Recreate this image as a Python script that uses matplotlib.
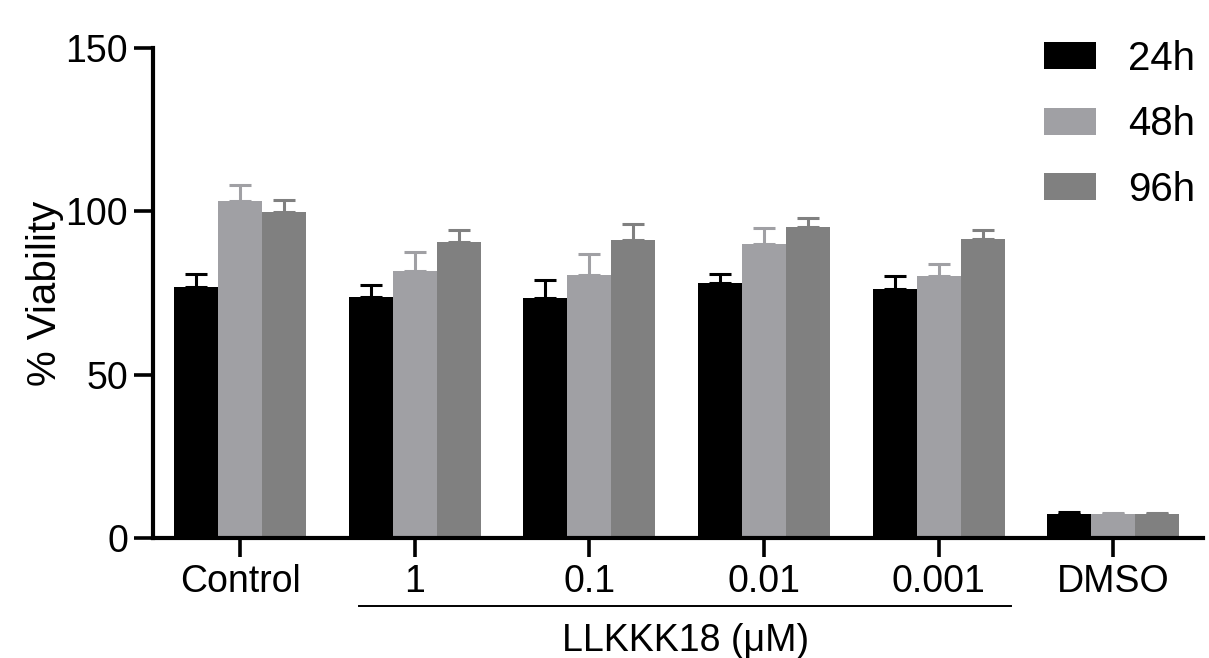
from matplotlib import pyplot as plt
import numpy as np

# data
groups = ["Control", "1", "0.1", "0.01", "0.001", "DMSO"]
series = ["24h", "48h", "96h"]
v24 = [76.8, 73.8, 73.5, 78.1, 76.1, 7.4]
v48 = [103.2, 81.7, 80.4, 90.1, 80.2, 7.2]
v96 = [99.7, 90.5, 91.1, 95.2, 91.4, 7.3]
e24 = [4.0, 3.5, 5.6, 2.7, 4.1, 0.6]
e48 = [4.8, 5.7, 6.5, 4.8, 3.7, 0.4]
e96 = [3.8, 3.7, 5.0, 2.7, 2.8, 0.5]
colors = ["#000000", "#a0a0a4", "#808080"]

plt.rcParams['font.family'] = ['Liberation Sans', 'DejaVu Sans']

fig = plt.figure(figsize=(12.09, 6.58), dpi=100)
ax = fig.add_axes([153/1209, 120/658, 1050/1209, 490/658])

x = np.arange(len(groups))
w = 0.252
vals = [v24, v48, v96]
errs = [e24, e48, e96]
for i in range(3):
    pos = x + (i - 1) * w
    ax.bar(pos, vals[i], width=w, color=colors[i], label=series[i], zorder=2)
    ax.errorbar(pos, vals[i], yerr=[np.zeros(len(groups)), errs[i]], fmt='none',
                ecolor=colors[i], elinewidth=2.2, capsize=8, capthick=2.2, zorder=1)

ax.set_xlim(-0.5, 5.515)
ax.set_ylim(0, 150)
ax.set_yticks([0, 50, 100, 150])
ax.set_xticks(x)
ax.set_xticklabels(groups)

for s in ["top", "right"]:
    ax.spines[s].set_visible(False)
for s in ["left", "bottom"]:
    ax.spines[s].set_linewidth(3)
ax.tick_params(axis='both', width=2.6, length=14, labelsize=27)
ax.tick_params(axis='x', pad=5)
ax.tick_params(axis='y', pad=4)

ax.set_ylabel("% Viability", fontsize=29)
ax.yaxis.set_label_coords(-0.085, 0.5)

# bracket under the concentrations
ax.plot([0.68, 4.415], [-0.139, -0.139], color='black', lw=1.4,
        transform=ax.get_xaxis_transform(), clip_on=False)
ax.text(2.55, -0.21, "LLKKK18 (\u03bcM)", fontsize=27, ha='center', va='center',
        transform=ax.get_xaxis_transform())

ax.legend(loc='upper left', bbox_to_anchor=(1044/1209, 1 - 40/658),
          bbox_transform=fig.transFigure, frameon=False, fontsize=29,
          handlelength=1.3, handleheight=0.65, handletextpad=0.78,
          labelspacing=0.68, borderpad=0, borderaxespad=0)

plt.savefig("out.png", dpi=100)
